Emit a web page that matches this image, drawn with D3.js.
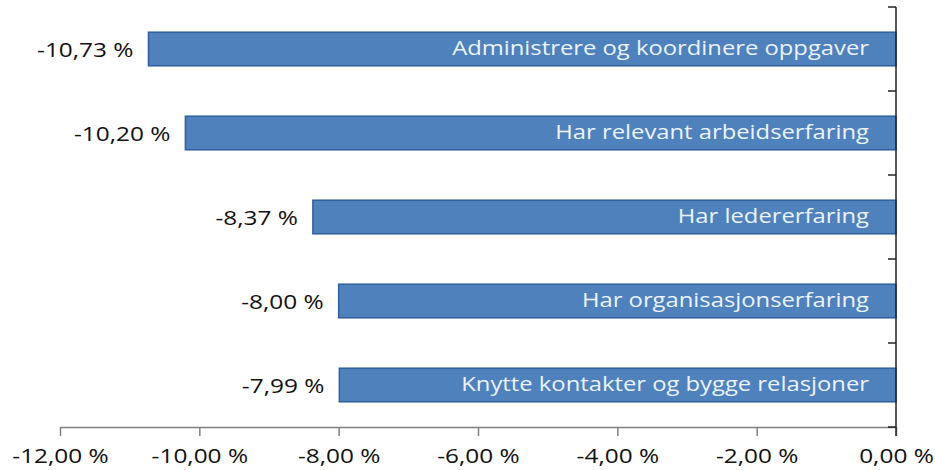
<!DOCTYPE html>
<html><head><meta charset="utf-8">
<script src="https://cdn.jsdelivr.net/npm/d3@7"></script>
<style>body{margin:0;background:#fff}svg{display:block}</style>
</head><body>
<svg id="c" width="935" height="470"></svg>
<script>
const categories = ["Administrere og koordinere oppgaver","Har relevant arbeidserfaring","Har ledererfaring","Har organisasjonserfaring","Knytte kontakter og bygge relasjoner"];
const values = [-10.73, -10.20, -8.37, -8.00, -7.99];
const tickValues = [-12, -10, -8, -6, -4, -2, 0];

const fmt = v => v.toFixed(2).replace(".", ",") + " %";
const svg = d3.select("#c");
const font = "'Open Sans', sans-serif";
const numStretch = 1.22, catStretch = 1.19;

const x = d3.scaleLinear().domain([-12, 0]).range([60, 896]);
const y = d3.scaleBand().domain(categories).range([7, 427]).paddingInner(0.6).paddingOuter(0.3);

// x axis
const xa = svg.append("g").attr("transform", "translate(0,427)")
  .call(d3.axisBottom(x).tickValues(tickValues).tickFormat(fmt).tickSizeInner(9).tickSizeOuter(0).tickPadding(13));
xa.select(".domain").attr("stroke", "#808080").attr("stroke-width", 1.5);
xa.selectAll(".tick line").attr("stroke", "#808080").attr("stroke-width", 1.5);
xa.selectAll("text").attr("font-family", font).attr("font-size", 20).attr("fill", "#111")
  .attr("transform", `scale(${numStretch},1)`);

// bars
const g = svg.append("g");
g.selectAll("rect").data(values).join("rect")
  .attr("x", d => x(d)).attr("width", d => x(0) - x(d))
  .attr("y", (d, i) => y(categories[i])).attr("height", y.bandwidth())
  .attr("fill", "#4f81bd").attr("stroke", "#2f5f9c").attr("stroke-width", 1.5);

// category labels inside bars
g.selectAll("text.cat").data(categories).join("text").attr("class", "cat")
  .attr("transform", d => `translate(869,${y(d) + y.bandwidth() / 2 + 6}) scale(${catStretch},1)`)
  .attr("text-anchor", "end").attr("font-family", font).attr("font-size", 20)
  .attr("fill", "#eaf3fc").text(d => d);

// value labels
g.selectAll("text.val").data(values).join("text").attr("class", "val")
  .attr("transform", (d, i) => `translate(${x(d) - 15},${y(categories[i]) + y.bandwidth() / 2 + 7.5}) scale(${numStretch},1)`)
  .attr("text-anchor", "end").attr("font-family", font).attr("font-size", 20)
  .attr("fill", "#111").text(fmt);

// y axis on the right (at 0)
const ya = svg.append("g").attr("transform", "translate(896,0)");
const bounds = d3.range(categories.length + 1).map(i => 7 + i * y.step());
ya.append("line").attr("x1", 0).attr("x2", 0).attr("y1", 7).attr("y2", 436).attr("stroke", "#222").attr("stroke-width", 1.5);
ya.selectAll("line.t").data(bounds).join("line").attr("class", "t")
  .attr("x1", -8).attr("x2", 0).attr("y1", d => d).attr("y2", d => d)
  .attr("stroke", "#222").attr("stroke-width", 1.5);
</script>
</body></html>
